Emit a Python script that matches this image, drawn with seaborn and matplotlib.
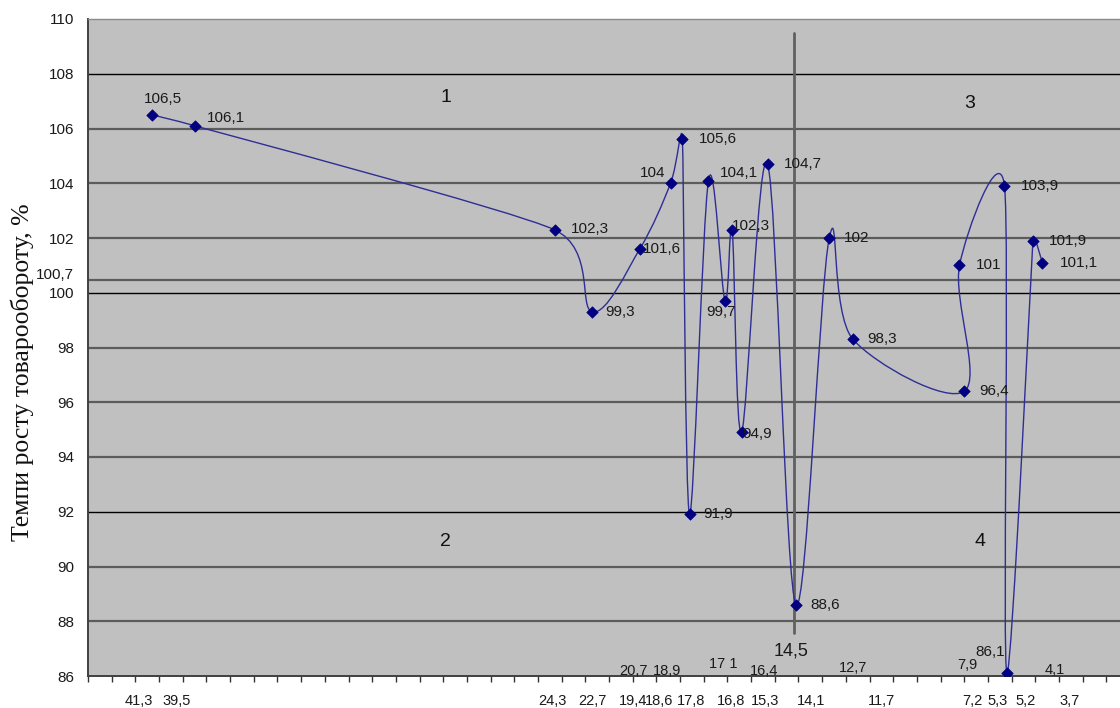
import numpy as np
import pandas as pd
import matplotlib
matplotlib.use("Agg")
import matplotlib.pyplot as plt
import matplotlib.transforms as mtransforms
from matplotlib.path import Path
from matplotlib.patches import PathPatch
import seaborn as sns

# market share (x) and turnover growth rate (y) for each store
share = [41.3, 39.5, 24.3, 22.7, 20.7, 19.4, 18.9, 18.6, 17.8, 17.1, 16.8,
         16.4, 15.3, 14.1, 12.7, 11.7, 7.0, 7.2, 5.3, 5.2, 4.1, 3.7]
growth = [106.5, 106.1, 102.3, 99.3, 101.6, 104, 105.6, 91.9, 104.1, 99.7, 102.3,
          94.9, 104.7, 88.6, 102, 98.3, 96.4, 101, 103.9, 86.1, 101.9, 101.1]

# x-value captions under the axis and just above it
bottom_labels = ["41,3", "39,5", "24,3", "22,7", "19,4", "18,6", "17,8", "16,8",
                 "15,3", "14,1", "11,7", "7,2", "5,3", "5,2", "3,7"]
bottom_pos = [41.85, 40.25, 24.4, 22.7, 21.0, 19.9, 18.55, 16.85,
              15.4, 13.45, 10.5, 6.65, 5.6, 4.4, 2.55]
upper_labels = ["20,7", "18,9", "17 1", "16,4", "12,7", "7,9", "4,1"]
upper_pos = [(20.98, 86.18), (19.55, 86.18), (17.18, 86.44), (15.45, 86.18),
             (11.69, 86.29), (6.88, 86.40), (3.16, 86.22)]

# quadrant dividers
mean_share = 14.2
mean_growth = 100.45
quadrants = ["1", "2", "3", "4"]
quad_pos = [(28.9, 107.15), (28.9, 90.9), (6.75, 106.9), (6.33, 90.9)]

yticks = [86, 88, 90, 92, 94, 96, 98, 100, 100.7, 102, 104, 106, 108, 110]
ytick_labels = ["86", "88", "90", "92", "94", "96", "98", "100", "100,7",
                "102", "104", "106", "108", "110"]

# label offsets in pixels (dx, dy, ha)
offsets = [(11, 16, "center"), (12, 8, "left"), (16, 1, "left"), (13, 0, "left"),
           (3, 0, "left"), (-5, 10, "right"), (16, 0, "left"), (14, 0, "left"),
           (11, 8, "left"), (-4, -11, "center"), (0, 4, "left"), (1, -2, "left"),
           (16, 0, "left"), (14, 0, "left"), (15, 0, "left"), (14, 0, "left"),
           (15, 0, "left"), (16, 0, "left"), (16, 0, "left"), (-17, 21, "center"),
           (16, 0, "left"), (17, 0, "left")]

df = pd.DataFrame({"share": share, "growth": growth})

sns.set_theme(style="white")
plt.rcParams["font.family"] = ["Liberation Sans", "DejaVu Sans"]

fig = plt.figure(figsize=(11.2, 7.08), dpi=100)
ax = fig.add_axes([88 / 1120, 32 / 708, 1042 / 1120, 657 / 708])
ax.set_facecolor("#c0c0c0")
ax.set_xlim(44, 0)
ax.set_ylim(86, 110)

# horizontal grid
for g in range(88, 110, 2):
    if g in (92, 100, 108):
        ax.axhline(g, color="black", lw=1.0, zorder=1)
    else:
        ax.axhline(g, color="#5c5c5c", lw=1.6, zorder=1)
ax.axhline(mean_growth, color="#5c5c5c", lw=1.6, zorder=1)
ax.plot([mean_share, mean_share], [87.57, 109.49], color="#606060", lw=2.0, zorder=1)


def smooth_path(ax, xs, ys):
    # Excel-like smoothed line: Catmull-Rom tangents in screen space,
    # arm length capped at half of the shorter neighbouring segment
    pts = ax.transData.transform(np.column_stack([xs, ys]))
    n = len(pts)
    arms = []
    for i in range(n):
        pa = pts[max(i - 1, 0)]
        pb = pts[min(i + 1, n - 1)]
        d02 = np.hypot(*(pb - pa))
        segs = [np.hypot(*(pts[i] - pa)), np.hypot(*(pb - pts[i]))]
        segs = [s for s in segs if s > 0]
        if d02 == 0:
            arms.append(np.zeros(2))
            continue
        length = min([d02 / 6] + [s / 2 for s in segs])
        arms.append((pb - pa) / d02 * length)
    verts = [pts[0]]
    codes = [Path.MOVETO]
    for i in range(n - 1):
        verts += [pts[i] + arms[i], pts[i + 1] - arms[i + 1], pts[i + 1]]
        codes += [Path.CURVE4] * 3
    verts = ax.transData.inverted().transform(np.array(verts))
    return Path(verts, codes)


ax.add_patch(PathPatch(smooth_path(ax, df["share"].values, df["growth"].values),
                       facecolor="none", edgecolor="#2e2e96", lw=1.0, zorder=3))
sns.scatterplot(data=df, x="share", y="growth", marker="D", s=34, color="#000080",
                edgecolor="#000080", linewidth=0.5, ax=ax, zorder=4, legend=False)

for x, y, (dx, dy, ha) in zip(share, growth, offsets):
    txt = f"{y:g}".replace(".", ",")
    ax.annotate(txt, (x, y), xytext=(dx, dy), textcoords="offset pixels",
                ha=ha, va="center", fontsize=11, color="#1a1a1a", zorder=5)

trans = mtransforms.blended_transform_factory(ax.transData, ax.transAxes)
for lab, x in zip(bottom_labels, bottom_pos):
    ax.text(x, -0.038, lab, transform=trans, ha="center", va="center",
            fontsize=10.5, color="#1a1a1a", clip_on=False)
for lab, (x, y) in zip(upper_labels, upper_pos):
    ax.text(x, y, lab, ha="center", va="center", fontsize=10.5, color="#1a1a1a")
ax.text(14.31, 86.9, "14,5", ha="center", va="center", fontsize=13, color="#1a1a1a")

for lab, (x, y) in zip(quadrants, quad_pos):
    ax.text(x, y, lab, ha="center", va="center", fontsize=14, color="#111111")

ax.set_xticks(np.arange(0, 45, 1))
ax.set_xticklabels([])
ax.tick_params(axis="x", direction="out", length=4, width=1, color="#333333", bottom=True)
ax.set_yticks(yticks)
ax.set_yticklabels(ytick_labels)
ax.tick_params(axis="y", length=0, pad=10, labelsize=11, labelcolor="#1a1a1a")
ax.set_xlabel("")
ax.set_ylabel("")

for side in ["left", "bottom"]:
    ax.spines[side].set_color("#404040")
    ax.spines[side].set_linewidth(1.4)
ax.spines["top"].set_color("#8a8a8a")
ax.spines["top"].set_linewidth(1.0)
ax.spines["right"].set_visible(False)

fig.text(22 / 1120, 1 - 372 / 708, "Темпи росту товарообороту, %", rotation=90,
         ha="center", va="center", fontsize=18.5, family=["Liberation Serif", "DejaVu Serif"],
         color="#111111")

fig.savefig("out.png", dpi=100)
